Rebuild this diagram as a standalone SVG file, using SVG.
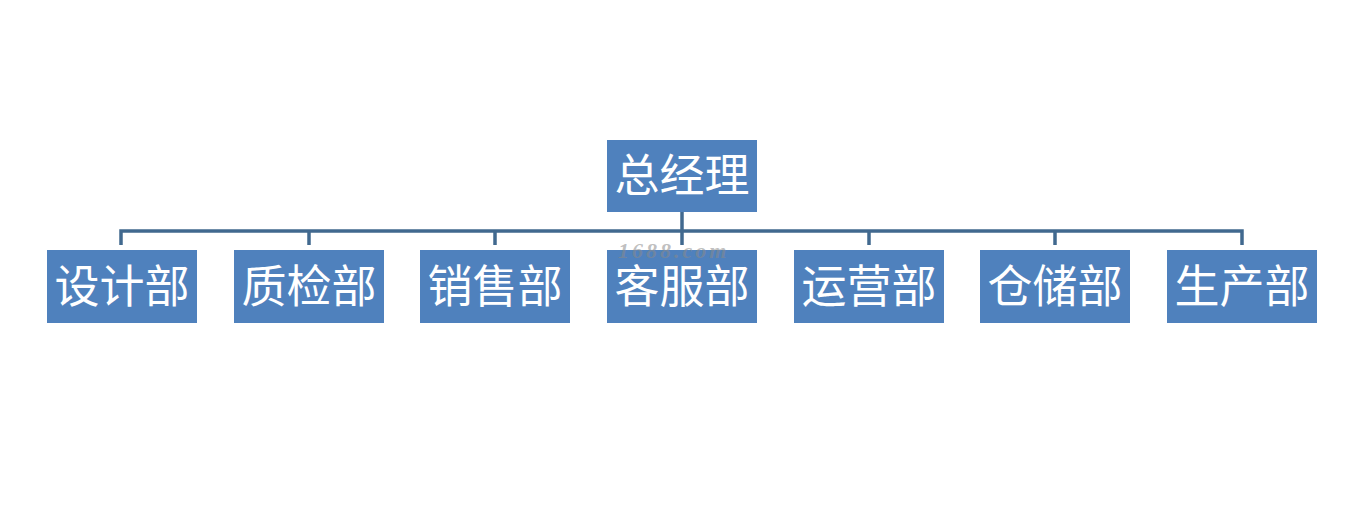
<svg xmlns="http://www.w3.org/2000/svg" width="1366" height="514" viewBox="0 0 1366 514">
<style>
.box{fill:#4F81BD}
.lbl{fill:#FFFFFF;font-family:"Noto Sans CJK SC","Noto Sans CJK JP",sans-serif;font-size:45px;text-anchor:middle;dominant-baseline:central}
.conn{stroke:#41698F;stroke-width:3.5;fill:none}
.wm{fill:#8A8A8A;fill-opacity:0.55;font-family:"Liberation Serif",serif;font-style:italic;font-weight:bold;font-size:22px;letter-spacing:3px}
</style>
<rect width="1366" height="514" fill="#FFFFFF"/>
<g id="connectors">
<path class="conn" d="M682 212 V245"/>
<path class="conn" d="M121 245 V231 H1242 V245"/>
<path class="conn" d="M309 231 V245 M495 231 V245 M869 231 V245 M1055 231 V245"/>
</g>
<g id="n0"><rect class="box" x="607" y="140" width="150" height="72"/><text class="lbl" x="682" y="172">总经理</text></g>
<g id="n1"><rect class="box" x="47" y="250" width="150" height="73"/><text class="lbl" x="122" y="283">设计部</text></g>
<g id="n2"><rect class="box" x="234" y="250" width="150" height="73"/><text class="lbl" x="309" y="283">质检部</text></g>
<g id="n3"><rect class="box" x="420" y="250" width="150" height="73"/><text class="lbl" x="495" y="283">销售部</text></g>
<g id="n4"><rect class="box" x="607" y="250" width="150" height="73"/><text class="lbl" x="682" y="283">客服部</text></g>
<g id="n5"><rect class="box" x="794" y="250" width="150" height="73"/><text class="lbl" x="869" y="283">运营部</text></g>
<g id="n6"><rect class="box" x="980" y="250" width="150" height="73"/><text class="lbl" x="1055" y="283">仓储部</text></g>
<g id="n7"><rect class="box" x="1167" y="250" width="150" height="73"/><text class="lbl" x="1242" y="283">生产部</text></g>
<text class="wm" x="618" y="258">1688.com</text>
</svg>
